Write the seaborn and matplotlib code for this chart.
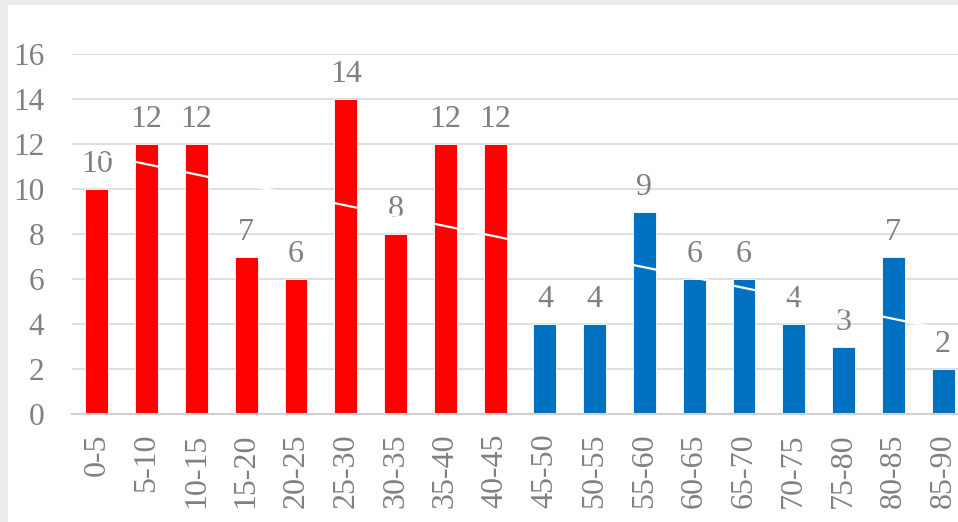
import numpy as np
import pandas as pd
import seaborn as sns
import matplotlib.pyplot as plt
from matplotlib.patches import Rectangle

# Данные
categories = ['0-5', '5-10', '10-15', '15-20', '20-25', '25-30', '30-35', '35-40', '40-45',
              '45-50', '50-55', '55-60', '60-65', '65-70', '70-75', '75-80', '80-85', '85-90']
values = [10, 12, 12, 7, 6, 14, 8, 12, 12, 4, 4, 9, 6, 6, 4, 3, 7, 2]
groups = ['first'] * 9 + ['second'] * 9

df = pd.DataFrame({'cat': categories, 'val': values, 'grp': groups})

sns.set_style('white')
plt.rcParams['font.family'] = ['Liberation Serif', 'DejaVu Serif']
gray = '#808080'

fig = plt.figure(figsize=(9.58, 5.22), dpi=100)
fig.patch.set_facecolor('#ececec')
fig.patches.append(Rectangle((8 / 958, 0), 1, 1 - 5 / 522, transform=fig.transFigure,
                             facecolor='white', edgecolor='none', zorder=-10))

ax = fig.add_axes([72 / 958, (522 - 414) / 522, 896 / 958, 360 / 522])
ax.set_zorder(5)
ax.set_facecolor('none')

sns.barplot(data=df, x='cat', y='val', hue='grp', palette={'first': '#ff0000', 'second': '#0070c0'},
            dodge=False, width=0.46, legend=False, ax=ax, saturation=1,
            edgecolor='white', linewidth=0.6, zorder=2)

for cont in ax.containers:
    ax.bar_label(cont, padding=7, fontsize=23, color=gray, zorder=3)

# Линия тренда
sns.regplot(x=np.arange(len(values)), y=np.array(values, dtype=float), scatter=False, ci=None,
            ax=ax, line_kws=dict(color='white', lw=1.6, zorder=5))

ax.set_xlim(-0.5, 17.5)
ax.set_ylim(0, 16)
ax.set_yticks(range(0, 17, 2))
ax.yaxis.grid(True, color='#d9d9d9', lw=1.2, zorder=0)
ax.set_axisbelow(True)
ax.set_xlabel('')
ax.set_ylabel('')
for s in ['top', 'right', 'left']:
    ax.spines[s].set_visible(False)
ax.spines['bottom'].set_color('#d0d0d0')
ax.spines['bottom'].set_linewidth(1.5)

ax.tick_params(axis='y', length=0, pad=20, labelsize=22.5, labelcolor=gray)
ax.tick_params(axis='x', length=0, pad=14, labelsize=23, labelcolor=gray)
ax.set_xticks(range(len(categories)))
ax.set_xticklabels(categories, rotation=90)

plt.savefig('out.png', dpi=100, facecolor=fig.get_facecolor())
